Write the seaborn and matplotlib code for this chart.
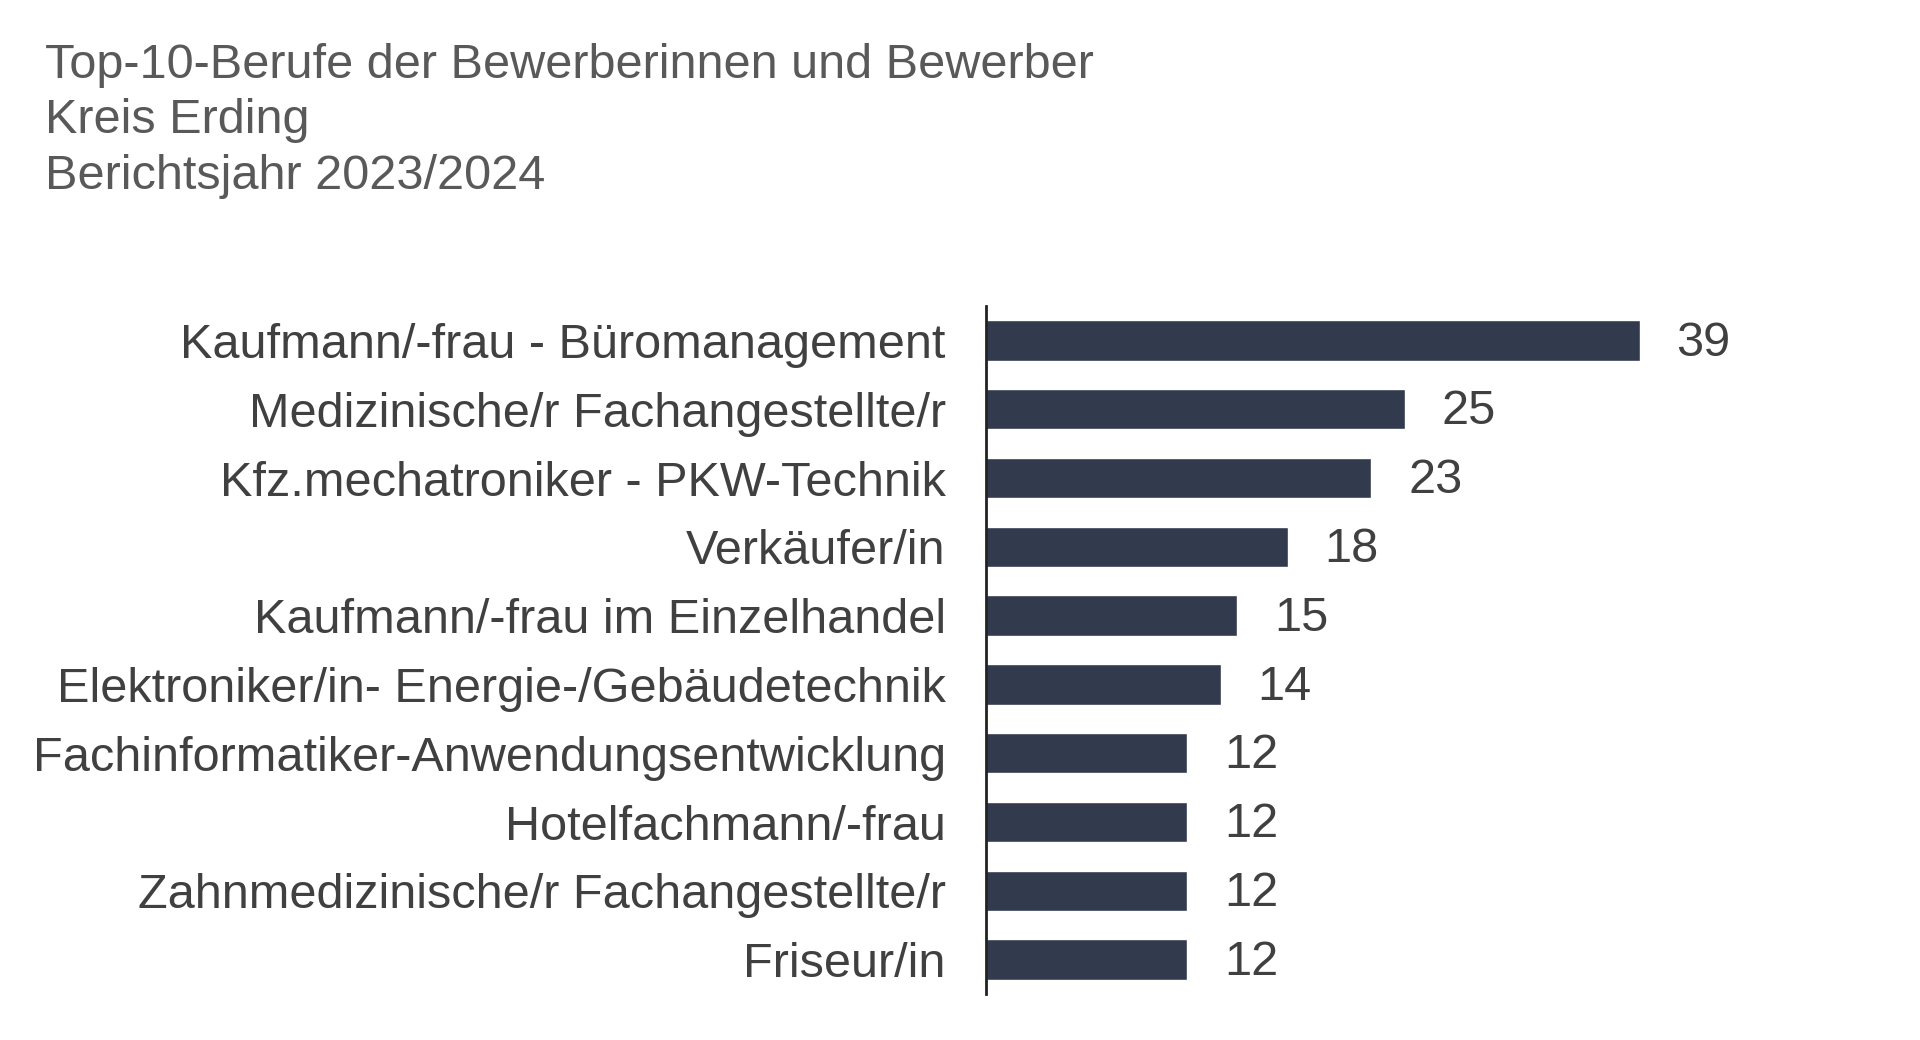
import matplotlib
matplotlib.use("Agg")
import matplotlib.pyplot as plt
import seaborn as sns
import pandas as pd

categories = [
    "Kaufmann/-frau - Büromanagement",
    "Medizinische/r Fachangestellte/r",
    "Kfz.mechatroniker - PKW-Technik",
    "Verkäufer/in",
    "Kaufmann/-frau im Einzelhandel",
    "Elektroniker/in- Energie-/Gebäudetechnik",
    "Fachinformatiker-Anwendungsentwicklung",
    "Hotelfachmann/-frau",
    "Zahnmedizinische/r Fachangestellte/r",
    "Friseur/in",
]
values = [39, 25, 23, 18, 15, 14, 12, 12, 12, 12]
title_lines = [
    "Top-10-Berufe der Bewerberinnen und Bewerber",
    "Kreis Erding",
    "Berichtsjahr 2023/2024",
]

sns.set_theme(style="white")
plt.rcParams["font.family"] = ["Liberation Sans", "DejaVu Sans"]

df = pd.DataFrame({"Beruf": categories, "Anzahl": values})

fig = plt.figure(figsize=(19.2, 10.4), dpi=100)
ax = fig.add_axes([986 / 1920, 1 - 994 / 1040, 905 / 1920, 688 / 1040])

bar_color = "#323a4d"
sns.barplot(data=df, y="Beruf", x="Anzahl", orient="h", color=bar_color,
            width=0.59, ax=ax, saturation=1)

ax.set_xlim(0, 54)
ax.set_ylim(9.5, -0.5)
ax.set_xlabel("")
ax.set_ylabel("")
ax.set_xticks([])
for s in ["top", "right", "bottom"]:
    ax.spines[s].set_visible(False)
ax.spines["left"].set_color("#222222")
ax.spines["left"].set_linewidth(2)
ax.tick_params(axis="y", length=0, pad=29, labelsize=35, labelcolor="#404040")

for i, v in enumerate(values):
    ax.text(v + 2.2, i + 0.04, f"{v}", va="center", ha="left",
            fontsize=35, color="#404040")

for k, line in enumerate(title_lines):
    fig.text(45 / 1920, 1 - (65 + 55.5 * k) / 1040, line, ha="left", va="center",
             fontsize=35, color="#595959")

fig.savefig("out.png", dpi=100, facecolor="white")
